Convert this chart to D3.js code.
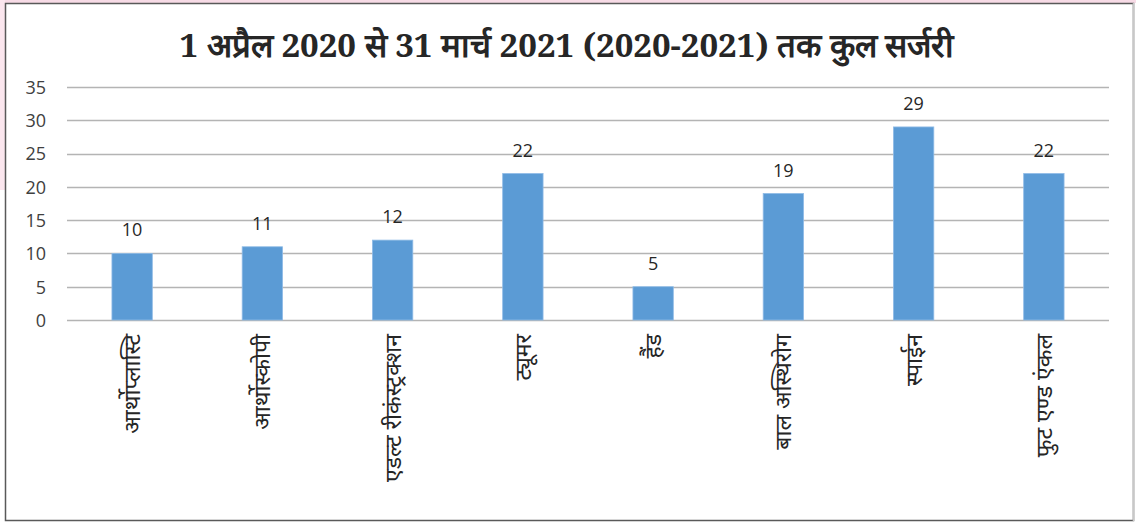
<!DOCTYPE html>
<html><head><meta charset="utf-8">
<script src="https://cdn.jsdelivr.net/npm/d3@7"></script>
<style>html,body{margin:0;padding:0;background:#fff;}svg{display:block;}</style>
</head><body>
<svg id="c" width="1136" height="524"></svg>
<script>
const categories = ["आर्थोप्लास्टि","आर्थोस्कोपी","एडल्ट रीकंस्ट्रक्शन","ट्यूमर","हैंड","बाल अस्थिरोग","स्पाईन","फुट एण्ड एंकल"];
const values = [10, 11, 12, 22, 5, 19, 29, 22];
const yTicks = [0, 5, 10, 15, 20, 25, 30, 35];
const title = "1 अप्रैल 2020 से 31 मार्च 2021 (2020-2021) तक कुल सर्जरी";

const svg = d3.select("#c");
// page background fragments
svg.append("rect").attr("x",0).attr("y",0).attr("width",1136).attr("height",3).attr("fill","#f7dbe6");
svg.append("rect").attr("x",0).attr("y",0).attr("width",5).attr("height",190).attr("fill","#fbe6ee");
// chart frame
svg.append("rect").attr("x",5.5).attr("y",3.5).attr("width",1128).attr("height",517)
  .attr("fill","#fff").attr("stroke","#595959").attr("stroke-width",1.5);
svg.append("line").attr("x1",1133.5).attr("x2",1133.5).attr("y1",3).attr("y2",521).attr("stroke","#c8c8c8").attr("stroke-width",1.5);

const x = d3.scaleBand().domain(categories).range([67,1109]).paddingInner(0.69).paddingOuter(0.345);
const y = d3.scaleLinear().domain([0,35]).range([320,87]);

// gridlines
svg.append("g").selectAll("line").data(yTicks).join("line")
  .attr("x1",67).attr("x2",1109).attr("y1",d=>Math.round(y(d))+0.5).attr("y2",d=>Math.round(y(d))+0.5)
  .attr("stroke","#b4b4b4").attr("stroke-width",1.3);

// y axis labels
const yAxis = d3.axisLeft(y).tickValues(yTicks).tickSize(0).tickPadding(0);
const ga = svg.append("g").attr("transform","translate(46,0)").call(yAxis);
ga.select(".domain").remove();
ga.selectAll("text").attr("font-family","'Open Sans', 'Noto Sans', sans-serif").attr("font-size",18).attr("fill","#404040").attr("dy","0.35em");

// bars
svg.append("g").selectAll("rect").data(values).join("rect")
  .attr("x",(d,i)=>x(categories[i])).attr("width",x.bandwidth())
  .attr("y",d=>y(d)).attr("height",d=>y(0)-y(d))
  .attr("fill","#5b9bd5").attr("stroke","#8fbbe6").attr("stroke-width",0.8);

// value labels
svg.append("g").selectAll("text").data(values).join("text")
  .attr("x",(d,i)=>x(categories[i])+x.bandwidth()/2).attr("y",d=>y(d)-17)
  .attr("text-anchor","middle").attr("font-family","'Open Sans', 'Noto Sans', sans-serif")
  .attr("font-size",18).attr("fill","#262626").text(d=>d);

// x labels rotated
const xAxis = d3.axisBottom(x).tickSize(0).tickPadding(0);
const gx = svg.append("g").attr("transform","translate(0,320)").call(xAxis);
gx.select(".domain").remove();
gx.selectAll("text")
  .attr("transform","rotate(-90)").attr("text-anchor","end")
  .attr("x",-14).attr("y",0).attr("dy","0.35em")
  .attr("font-family","'Noto Sans', 'DejaVu Sans', sans-serif").attr("font-size",23).attr("fill","#262626");

// title
svg.append("text").attr("x",567).attr("y",57).attr("text-anchor","middle")
  .attr("font-family","'Noto Serif', 'Liberation Serif', 'DejaVu Serif', serif").attr("font-weight","bold")
  .attr("font-size",33).attr("fill","#262626").text(title);
</script>
</body></html>
